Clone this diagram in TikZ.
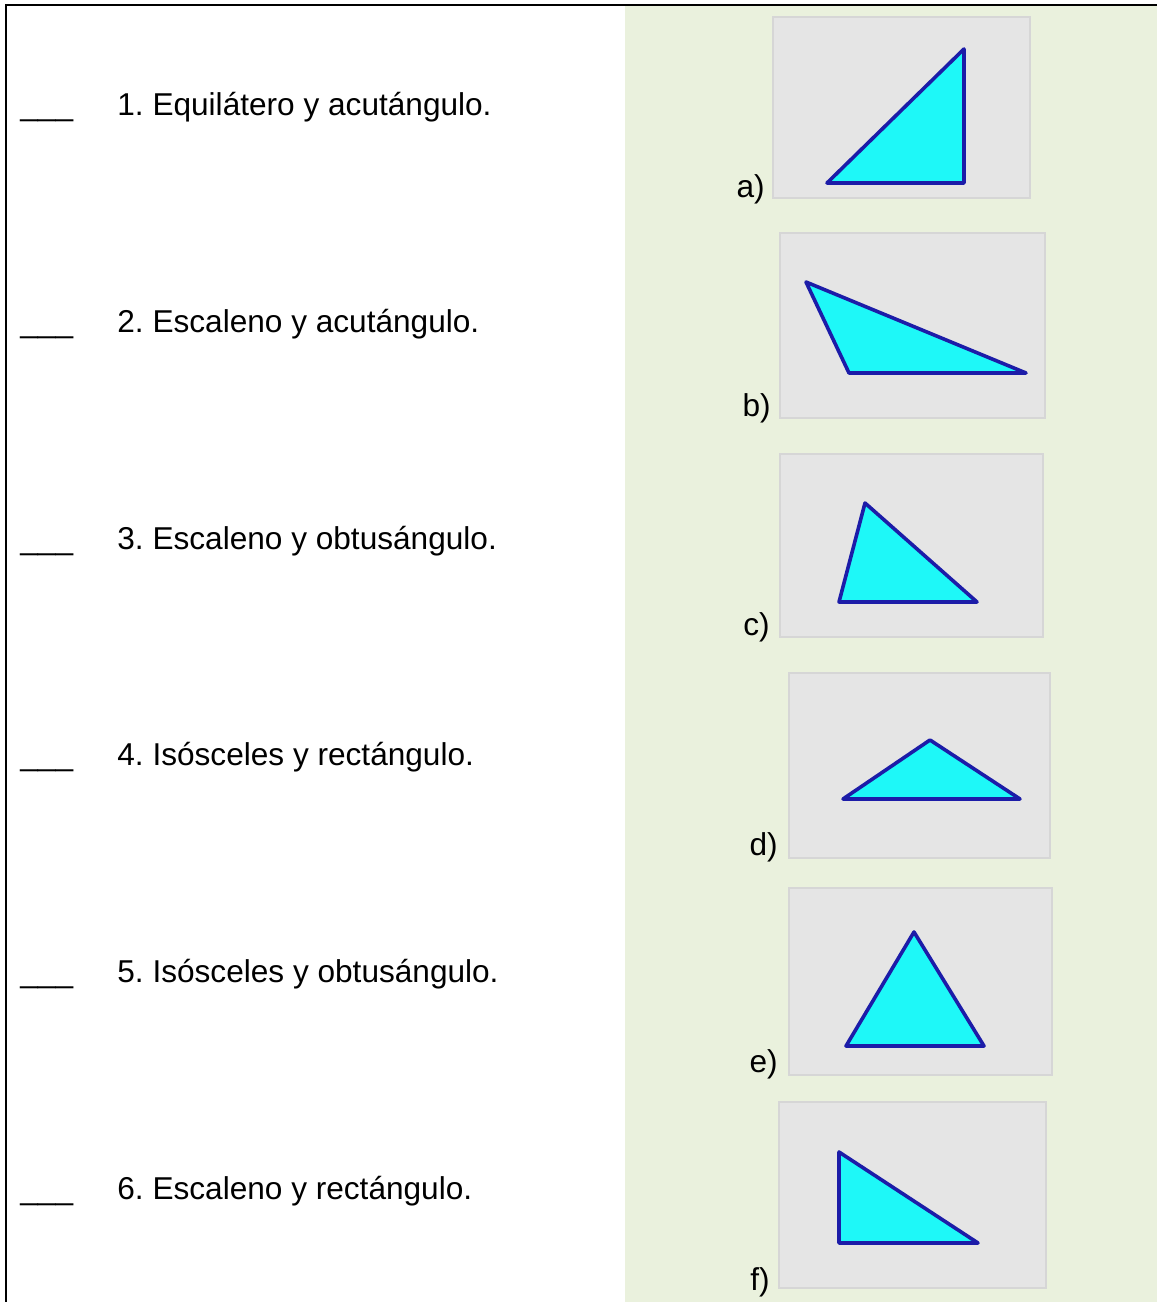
\documentclass[tikz,border=0pt]{standalone}
\usepackage{fontspec}
\setmainfont{Liberation Sans}
\usepackage{tikz}
\usetikzlibrary{calc}
\definecolor{sheetgreen}{HTML}{EAF1DD}
\definecolor{panelgray}{HTML}{E5E5E5}
\definecolor{paneledge}{HTML}{D6D6D6}
\definecolor{tricyan}{HTML}{1EF8F8}
\definecolor{triblue}{HTML}{1C1CA8}
\tikzstyle{item} = [anchor=base west, inner sep=0pt, font=\fontsize{15.8}{18}\selectfont]
\tikzstyle{letter} = [anchor=base east, inner sep=0pt, font=\fontsize{15.8}{18}\selectfont]
\tikzstyle{panel} = [fill=panelgray, draw=paneledge, line width=0.6pt]
\tikzstyle{tri} = [fill=tricyan, draw=triblue, line width=1.8pt, line join=round]

\begin{document}
\frenchspacing
\begin{tikzpicture}[x=0.5pt, y=-0.5pt]

        \useasboundingbox (0, 0) rectangle (1157, 1302);
        \fill[white] (0, 0) rectangle (1157, 1302);
        \fill[sheetgreen] (625, 6) rectangle (1157, 1302);
        \draw[line width=1.4pt] (6, 1302) -- (6, 5) -- (1157, 5);

        % left column
        \node[item] (blank1) at (20, 115) {\_\_\_};
        \node[item] (item1) at (117, 115) {1. Equilátero y acutángulo.};
        \node[item] (blank2) at (20, 332) {\_\_\_};
        \node[item] (item2) at (117, 332) {2. Escaleno y acutángulo.};
        \node[item] (blank3) at (20, 549) {\_\_\_};
        \node[item] (item3) at (117, 549) {3. Escaleno y obtusángulo.};
        \node[item] (blank4) at (20, 765) {\_\_\_};
        \node[item] (item4) at (117, 765) {4. Isósceles y rectángulo.};
        \node[item] (blank5) at (20, 982) {\_\_\_};
        \node[item] (item5) at (117, 982) {5. Isósceles y obtusángulo.};
        \node[item] (blank6) at (20, 1199) {\_\_\_};
        \node[item] (item6) at (117, 1199) {6. Escaleno y rectángulo.};

        % right column
        \draw[panel] (773, 17) rectangle (1030, 198);
        \draw[tri] (827, 183) -- (964, 183) -- (964, 49) -- cycle;
        \node[letter] (labelA) at (765, 197) {a)};

        \draw[panel] (780, 233) rectangle (1045, 418);
        \draw[tri] (806, 282) -- (849, 373) -- (1026, 373) -- cycle;
        \node[letter] (labelB) at (771, 416) {b)};

        \draw[panel] (780, 454) rectangle (1043, 637);
        \draw[tri] (865, 503) -- (839, 602) -- (977, 602) -- cycle;
        \node[letter] (labelC) at (770, 635) {c)};

        \draw[panel] (789, 673) rectangle (1050, 858);
        \draw[tri] (843, 799) -- (930, 740) -- (1020, 799) -- cycle;
        \node[letter] (labelD) at (778, 855) {d)};

        \draw[panel] (789, 888) rectangle (1052, 1075);
        \draw[tri] (846, 1046) -- (914, 932) -- (984, 1046) -- cycle;
        \node[letter] (labelE) at (778, 1072) {e)};

        \draw[panel] (779, 1102) rectangle (1046, 1288);
        \draw[tri] (839, 1152) -- (839, 1243) -- (978, 1243) -- cycle;
        \node[letter] (labelF) at (770, 1290) {f)};

\end{tikzpicture}
\end{document}
